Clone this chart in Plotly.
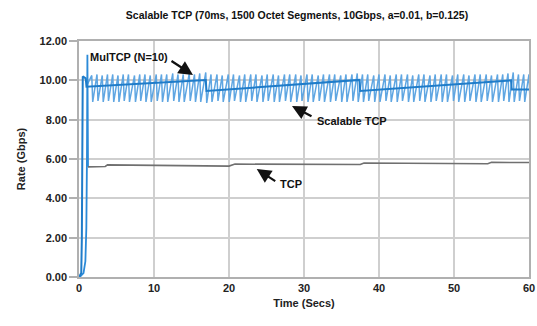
import plotly.graph_objects as go

# ---------------- data ----------------
x_ticks = [0, 10, 20, 30, 40, 50, 60]
y_ticks = [0, 2, 4, 6, 8, 10, 12]
y_tick_labels = ["0.00", "2.00", "4.00", "6.00", "8.00", "10.00", "12.00"]

# Scalable TCP sawtooth: start point, then peak times / peak rates / trough rates
stcp_start_t = [1.0]
stcp_start_v = [9.7]
stcp_peak_t = [1.7, 2.4, 3.1, 3.8, 4.5, 5.2, 5.9, 6.6, 7.4, 8.1, 8.8, 9.5, 10.3, 11.0, 11.7,
               12.5, 13.2, 13.9, 14.7, 15.4, 16.1, 16.9, 17.6, 18.4, 19.1, 19.9, 20.6, 21.4,
               22.1, 22.9, 23.6, 24.4, 25.1, 25.9, 26.6, 27.4, 28.1, 28.9, 29.6, 30.4, 31.1,
               31.9, 32.6, 33.4, 34.1, 34.9, 35.6, 36.4, 37.1, 37.8, 38.5, 39.3, 40.0, 40.8,
               41.5, 42.3, 43.0, 43.8, 44.5, 45.3, 46.0, 46.8, 47.5, 48.3, 49.0, 49.8, 50.5,
               51.3, 52.0, 52.8, 53.5, 54.3, 55.0, 55.8, 56.5, 57.2, 57.9, 58.6, 59.3, 60.0]
stcp_peak_v = [10.25, 10.3, 10.25, 10.3, 10.3, 10.25, 10.3, 10.3, 10.25, 10.3, 10.3, 10.25,
               10.3, 10.3, 10.3, 10.35, 10.3, 10.3, 10.35, 10.3, 10.35, 10.4, 10.3, 10.3, 10.25,
               10.3, 10.3, 10.25, 10.3, 10.3, 10.3, 10.25, 10.3, 10.3, 10.25, 10.3, 10.3, 10.3,
               10.25, 10.3, 10.3, 10.25, 10.3, 10.3, 10.3, 10.25, 10.3, 10.3, 10.35, 10.3, 10.3,
               10.25, 10.3, 10.3, 10.25, 10.3, 10.3, 10.3, 10.25, 10.3, 10.3, 10.25, 10.3, 10.3,
               10.3, 10.25, 10.3, 10.3, 10.25, 10.3, 10.3, 10.3, 10.25, 10.3, 10.3, 10.35, 10.4,
               10.3, 10.3, 10.3]
stcp_trough_v = [8.9, 8.95, 8.9, 8.95, 8.9, 8.9, 8.95, 8.9, 8.9, 8.95, 8.9, 8.9, 8.95, 8.9,
                 8.9, 8.95, 8.9, 8.9, 8.95, 8.9, 8.9, 8.85, 8.9, 8.95, 8.9, 8.9, 8.95, 8.9, 8.9,
                 8.95, 8.9, 8.9, 8.95, 8.9, 8.9, 8.95, 8.9, 8.9, 8.95, 8.9, 8.9, 8.95, 8.9, 8.9,
                 8.95, 8.9, 8.9, 8.95, 8.9, 8.9, 8.95, 8.9, 8.9, 8.95, 8.9, 8.9, 8.95, 8.9, 8.9,
                 8.95, 8.9, 8.9, 8.95, 8.9, 8.9, 8.95, 8.9, 8.9, 8.95, 8.9, 8.9, 8.95, 8.9, 8.9,
                 8.95, 8.9, 8.9, 8.95, 8.9, 8.9]

# MulTCP (N=10) aggregate rate
multcp_t = [0.0, 0.3, 0.38, 0.44, 0.5, 0.9, 1.0, 16.9, 17.0, 37.4, 37.5, 57.6, 57.7, 60.0]
multcp_v = [0.0, 0.2, 2.0, 6.0, 10.2, 10.1, 9.68, 10.02, 9.46, 10.02, 9.46, 10.0, 9.54, 9.54]

# Standard TCP (slow start, then congestion avoidance)
tcp_ss_t = [0.1, 0.6, 0.85, 0.98, 1.06, 1.12, 1.2]
tcp_ss_v = [0.0, 0.2, 0.8, 2.5, 6.0, 11.3, 5.6]
tcp_t = [1.2, 3.5, 3.8, 20.0, 20.8, 37.5, 38.0, 54.5, 55.0, 60.0]
tcp_v = [5.6, 5.62, 5.7, 5.64, 5.74, 5.72, 5.8, 5.76, 5.83, 5.82]

DROP = 0.13  # duration of each window-reduction edge

# ---------------- build sawtooth ----------------
saw_x = list(stcp_start_t)
saw_y = list(stcp_start_v)
for t, pv, tv in zip(stcp_peak_t, stcp_peak_v, stcp_trough_v):
    saw_x += [t, t + DROP]
    saw_y += [pv, tv]

FONT = "Liberation Sans, Arial, sans-serif"

fig = go.Figure()
fig.add_trace(go.Scatter(x=saw_x, y=saw_y, mode="lines",
                         line=dict(color="#5fa6e2", width=1.5), name="Scalable TCP"))
fig.add_trace(go.Scatter(x=tcp_ss_t, y=tcp_ss_v, mode="lines",
                         line=dict(color="#2b8ad8", width=1.8), name="TCP slow start"))
fig.add_trace(go.Scatter(x=multcp_t, y=multcp_v, mode="lines",
                         line=dict(color="#1f7cc9", width=2), name="MulTCP (N=10)"))
fig.add_trace(go.Scatter(x=tcp_t, y=tcp_v, mode="lines",
                         line=dict(color="#707070", width=1.6), name="TCP"))

axis_common = dict(showgrid=True, gridcolor="#cfcfcf", gridwidth=1.5,
                   showline=True, linecolor="#b0b0b0", linewidth=1.5, mirror=True,
                   zeroline=False, automargin=False,
                   tickfont=dict(family=FONT, size=11, color="#222"))

fig.update_xaxes(range=[0, 60], tickvals=x_ticks, ticktext=["<b>%d</b>" % v for v in x_ticks],
                 ticks="",
                 title=dict(text="<b>Time (Secs)</b>", font=dict(family=FONT, size=11, color="#222"),
                            standoff=6),
                 **axis_common)
fig.update_yaxes(range=[0, 12], tickvals=y_ticks, ticktext=["<b>%s</b>" % s for s in y_tick_labels],
                 ticks="outside", ticklen=8, tickcolor="#b0b0b0", tickwidth=1.5,
                 title=dict(text="<b>Rate (Gbps)</b>", font=dict(family=FONT, size=11, color="#222"),
                            standoff=12),
                 **axis_common)

arrow = dict(showarrow=True, arrowhead=2, arrowsize=1.3, arrowwidth=2.2, arrowcolor="#111",
             text="", axref="pixel", ayref="pixel", xref="x", yref="y")
fig.add_annotation(x=15.2, y=10.27, ax=-23, ay=-15, **arrow)
fig.add_annotation(x=28.4, y=8.69, ax=21, ay=11, **arrow)
fig.add_annotation(x=23.7, y=5.49, ax=20, ay=13, **arrow)

label = dict(showarrow=False, xref="x", yref="y",
             font=dict(family=FONT, size=11, color="#111"))
fig.add_annotation(x=6.67, y=11.18, text="<b>MulTCP (N=10)</b>", **label)
fig.add_annotation(x=36.4, y=7.93, text="<b>Scalable TCP</b>", **label)
fig.add_annotation(x=28.3, y=4.73, text="<b>TCP</b>", **label)

fig.update_layout(
    width=537, height=326,
    margin=dict(l=79, r=8, t=41, b=49),
    paper_bgcolor="white", plot_bgcolor="white",
    showlegend=False,
    title=dict(text="<b>Scalable TCP (70ms, 1500 Octet Segments, 10Gbps, a=0.01, b=0.125)</b>",
               x=297 / 537, xanchor="center", y=1 - 15 / 326, yanchor="middle",
               font=dict(family=FONT, size=10.5, color="#111")),
)

fig.write_html("out.html", config={"displayModeBar": False},
               post_script="document.body.style.margin='0';document.body.style.overflow='hidden';")
